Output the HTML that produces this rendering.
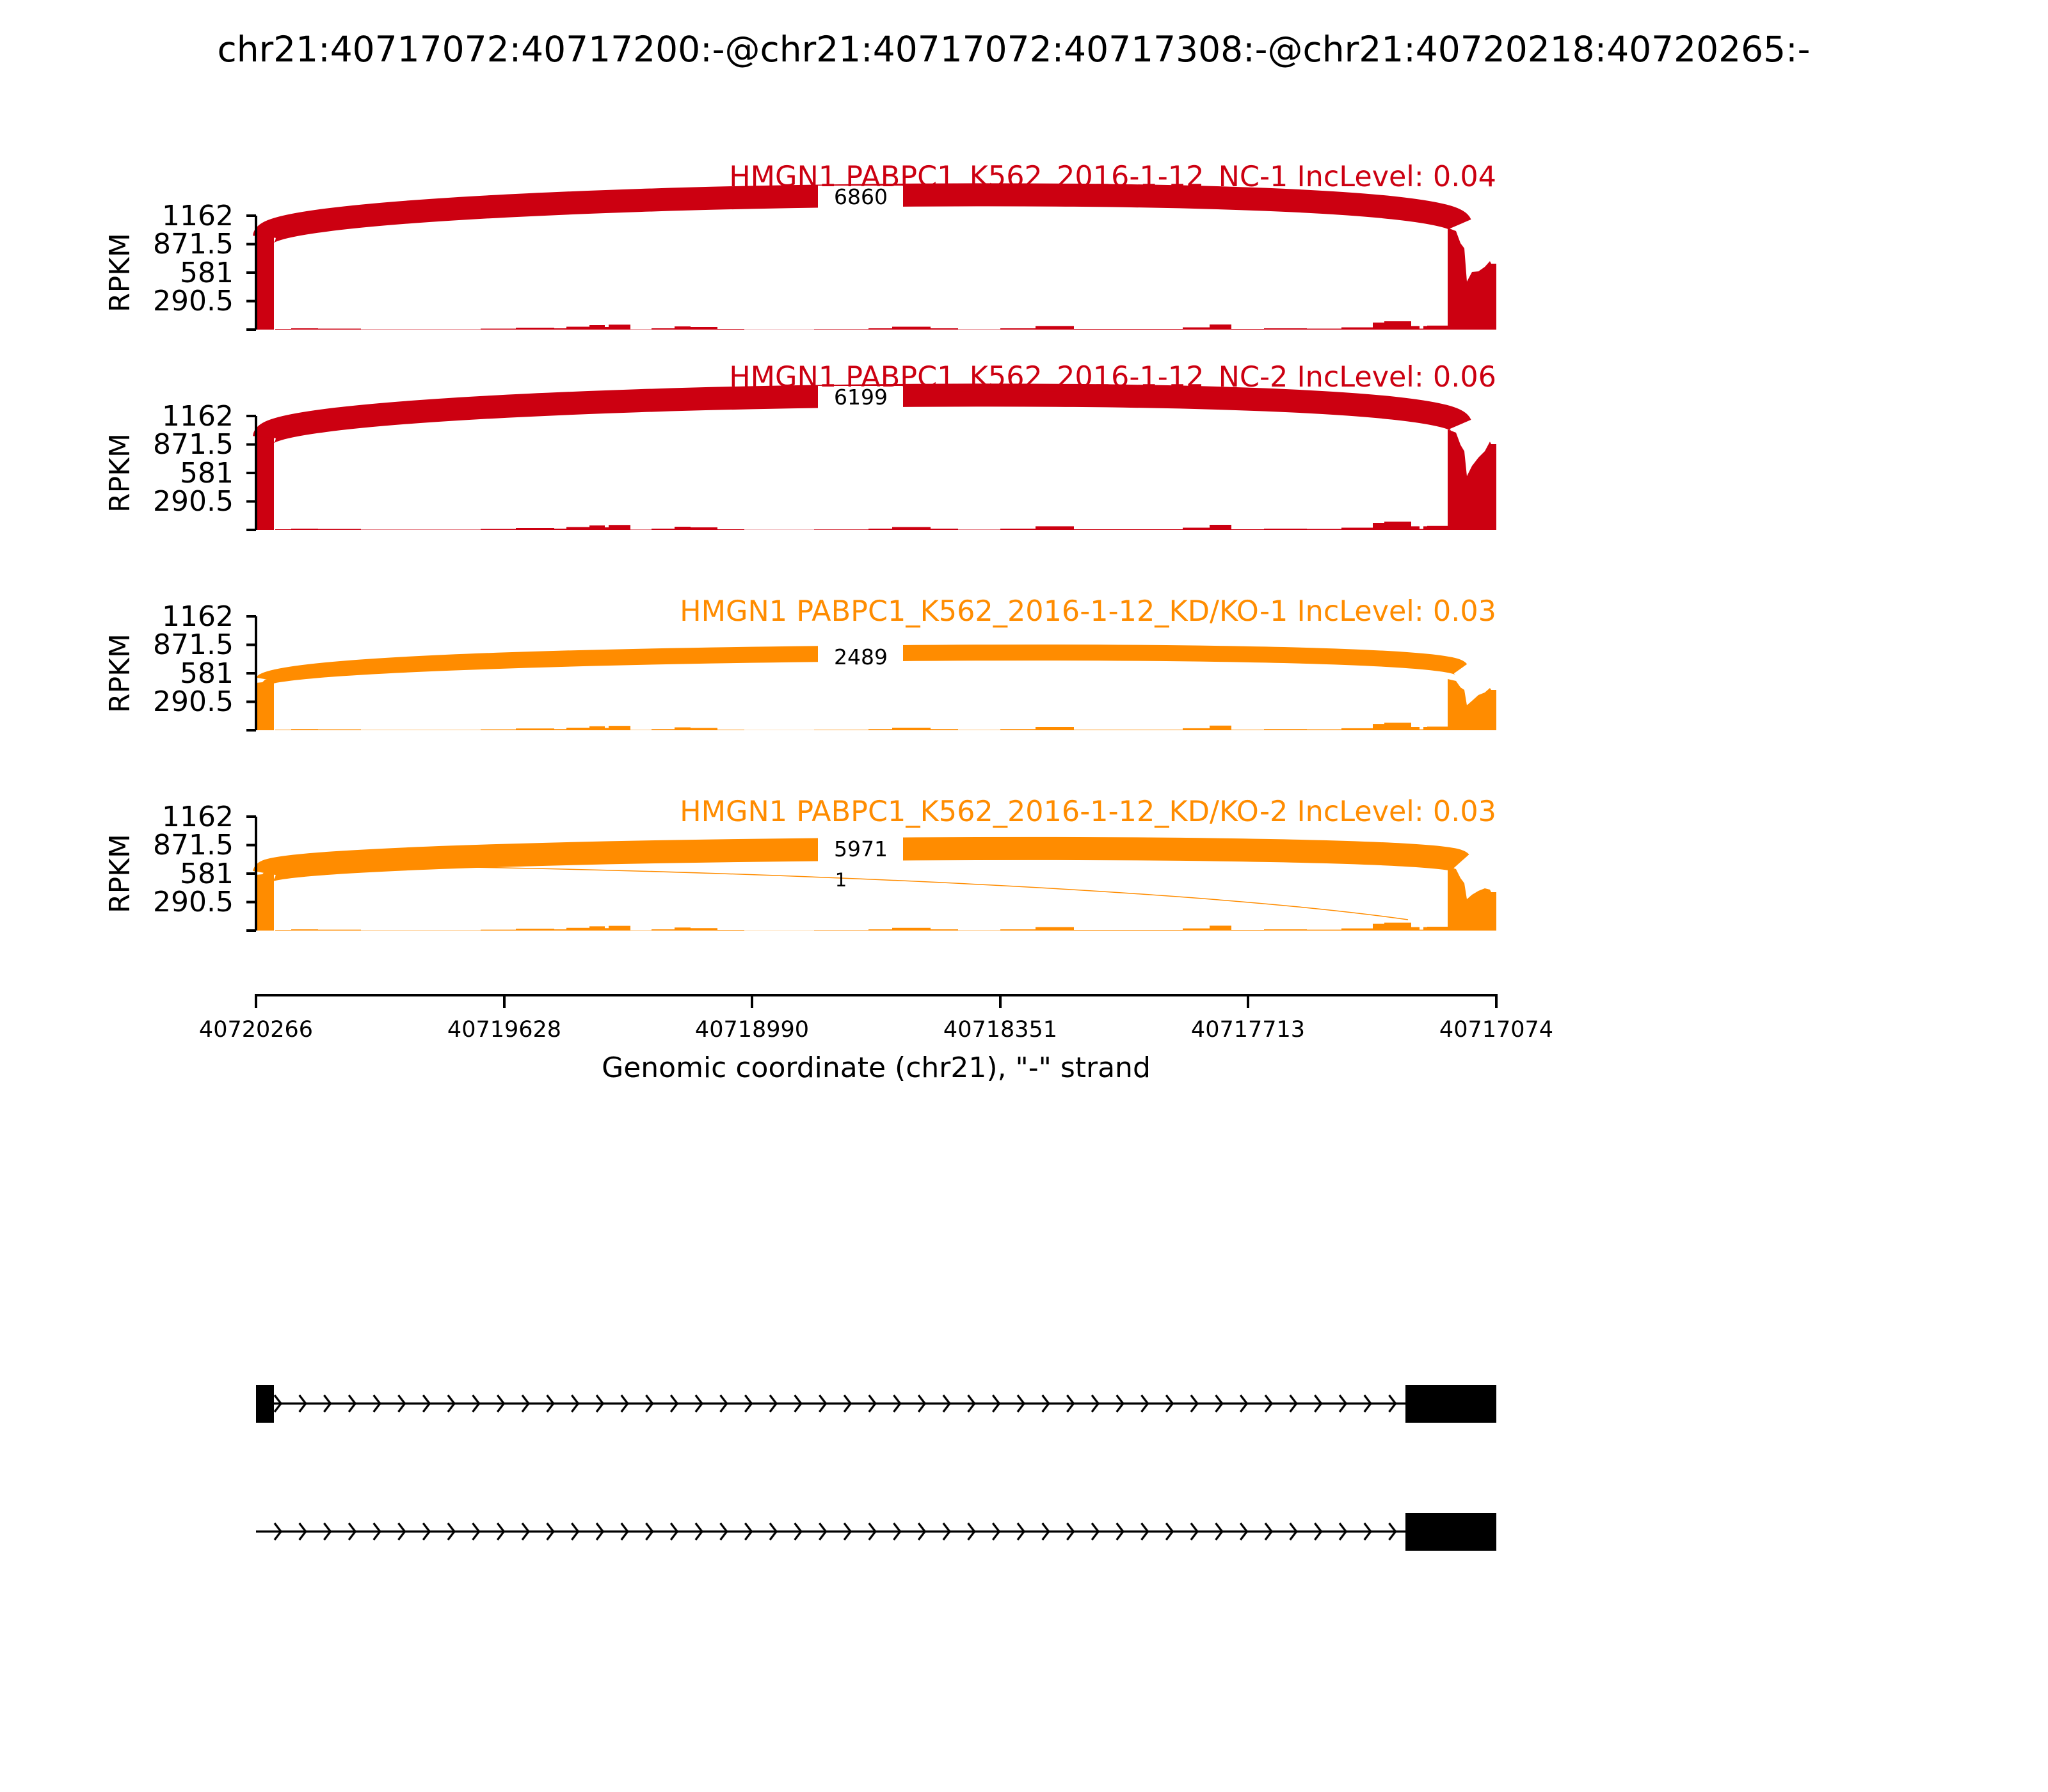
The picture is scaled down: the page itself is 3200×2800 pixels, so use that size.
<!DOCTYPE html>
<html><head><meta charset="utf-8"><style>
html,body{margin:0;padding:0;background:#fff;}
svg{display:block;}
text{font-family:"DejaVu Sans","Liberation Sans",sans-serif;}
</style></head><body>
<svg width="3200" height="2800" viewBox="0 0 3200 2800" xmlns="http://www.w3.org/2000/svg">
<defs>
<path id="noise" d="M30,0 V-1 H55 V-2 H97 V-1.5 H164 V-0.5 H351 V-1.5 H406 V-3 H466 V-2 H485 V-4.5 H521 V-7 H545 V-4 H551 V-7.7 H585 V-0.5 H618 V-2 H654 V-5 H679 V-4 H721 V-1 H763 V-0.3 H872 V-0.8 H957 V-2 H994 V-4.5 H1054 V-2 H1097 V-0.5 H1163 V-2 H1218 V-5.6 H1278 V-1 H1448 V-3.5 H1490 V-8 H1524 V-1 H1575 V-2 H1642 V-1.5 H1696 V-3.5 H1745 V-11 H1763 V-13 H1805 V-5.6 H1818 V-1.5 H1824 V-5.6 H1830 V-6.3 H1862 V0 Z"/>
<pattern id="chev1" patternUnits="userSpaceOnUse" x="401" y="2178" width="38.7" height="30">
<polyline points="28,2 38,15 28,28" fill="none" stroke="#000" stroke-width="3.3"/>
</pattern>
<pattern id="chev2" patternUnits="userSpaceOnUse" x="401" y="2378" width="38.7" height="30">
<polyline points="28,2 38,15 28,28" fill="none" stroke="#000" stroke-width="3.3"/>
</pattern>
</defs>

<text x="1584" y="96" font-size="55" text-anchor="middle">chr21:40717072:40717200:-@chr21:40717072:40717308:-@chr21:40720218:40720265:-</text>

<!-- Panel 1 -->
<g>
<use href="#noise" transform="translate(400,515)" fill="#cc0011"/>
<polygon fill="#cc0011" points="400,515 400,356 410,354 414,351 428,349 428,515"/>
<polygon fill="#cc0011" points="2262,515 2262,356 2275,361 2282,380 2288,388 2292,440 2300,425 2310,424 2320,417 2328,408 2330,412 2338,412 2338,515"/>
<path d="M413,370 C420,300 2250,275 2282,350" fill="none" stroke="#cc0011" stroke-width="36"/>
<rect x="1278" y="290" width="133" height="38" fill="#fff"/>
<text x="1345" y="319" font-size="33" text-anchor="middle">6860</text>
<text x="2338" y="291" font-size="44.5" text-anchor="end" fill="#cc0011">HMGN1 PABPC1_K562_2016-1-12_NC-1 IncLevel: 0.04</text>
</g>
<!-- Panel 2 -->
<g>
<use href="#noise" transform="translate(400,828)" fill="#cc0011"/>
<polygon fill="#cc0011" points="400,828 400,678 410,676 414,670 428,668 428,828"/>
<polygon fill="#cc0011" points="2262,828 2262,671 2275,676 2282,695 2288,705 2292,744 2300,728 2310,715 2320,705 2328,690 2330,694 2338,694 2338,828"/>
<path d="M413,683 C420,613 2250,588 2282,663" fill="none" stroke="#cc0011" stroke-width="36"/>
<rect x="1278" y="603" width="133" height="38" fill="#fff"/>
<text x="1345" y="632" font-size="33" text-anchor="middle">6199</text>
<text x="2338" y="604" font-size="44.5" text-anchor="end" fill="#cc0011">HMGN1 PABPC1_K562_2016-1-12_NC-2 IncLevel: 0.06</text>
</g>
<!-- Panel 3 -->
<g>
<use href="#noise" transform="translate(400,1141) scale(1,0.9)" fill="#ff8c00"/>
<polygon fill="#ff8c00" points="400,1141 400,1067 410,1066 414,1062 428,1060 428,1141"/>
<polygon fill="#ff8c00" points="2262,1141 2262,1061 2275,1064 2282,1074 2288,1078 2292,1102 2300,1095 2310,1086 2320,1082 2328,1075 2330,1078 2338,1078 2338,1141"/>
<path d="M413,1061 C420,1021 2250,1000 2282,1045" fill="none" stroke="#ff8c00" stroke-width="25"/>
<rect x="1278" y="1008" width="133" height="38" fill="#fff"/>
<text x="1345" y="1038" font-size="33" text-anchor="middle">2489</text>
<text x="2338" y="970" font-size="44.5" text-anchor="end" fill="#ff8c00">HMGN1 PABPC1_K562_2016-1-12_KD/KO-1 IncLevel: 0.03</text>
</g>
<!-- Panel 4 -->
<g>
<use href="#noise" transform="translate(400,1454) scale(1,0.95)" fill="#ff8c00"/>
<polygon fill="#ff8c00" points="400,1454 400,1367 410,1366 414,1361 428,1359 428,1454"/>
<polygon fill="#ff8c00" points="2262,1454 2262,1353 2275,1358 2282,1372 2288,1380 2292,1405 2300,1398 2310,1392 2320,1388 2328,1390 2330,1394 2338,1394 2338,1454"/>
<path d="M430,1352 C900,1352 1800,1380 2200,1437" fill="none" stroke="#ff8c00" stroke-width="1.5"/>
<text x="1314" y="1385" font-size="29" text-anchor="middle">1</text>
<path d="M413,1364 C420,1324 2250,1311 2282,1347" fill="none" stroke="#ff8c00" stroke-width="36"/>
<rect x="1278" y="1308" width="133" height="38" fill="#fff"/>
<text x="1345" y="1338" font-size="33" text-anchor="middle">5971</text>
<text x="2338" y="1283" font-size="44.5" text-anchor="end" fill="#ff8c00">HMGN1 PABPC1_K562_2016-1-12_KD/KO-2 IncLevel: 0.03</text>
</g>

<!-- Y axes -->
<g stroke="#000" stroke-width="4" fill="none">
<path d="M400,337 V515 M385,337 H400 M385,381.5 H400 M385,426 H400 M385,470.5 H400 M385,515 H400"/>
<path d="M400,650 V828 M385,650 H400 M385,694.5 H400 M385,739 H400 M385,783.5 H400 M385,828 H400"/>
<path d="M400,963 V1141 M385,963 H400 M385,1007.5 H400 M385,1052 H400 M385,1096.5 H400 M385,1141 H400"/>
<path d="M400,1276 V1454 M385,1276 H400 M385,1320.5 H400 M385,1365 H400 M385,1409.5 H400 M385,1454 H400"/>
</g>
<g font-size="44" text-anchor="end">
<text x="365" y="352">1162</text><text x="365" y="396">871.5</text><text x="365" y="441">581</text><text x="365" y="485">290.5</text>
<text x="365" y="665">1162</text><text x="365" y="709">871.5</text><text x="365" y="754">581</text><text x="365" y="798">290.5</text>
<text x="365" y="978">1162</text><text x="365" y="1022">871.5</text><text x="365" y="1067">581</text><text x="365" y="1111">290.5</text>
<text x="365" y="1291">1162</text><text x="365" y="1335">871.5</text><text x="365" y="1380">581</text><text x="365" y="1424">290.5</text>
</g>
<g font-size="44" text-anchor="middle">
<text transform="translate(202,426) rotate(-90)">RPKM</text>
<text transform="translate(202,739) rotate(-90)">RPKM</text>
<text transform="translate(202,1052) rotate(-90)">RPKM</text>
<text transform="translate(202,1365) rotate(-90)">RPKM</text>
</g>

<!-- X axis -->
<g stroke="#000" stroke-width="4" fill="none">
<path d="M398,1555 H2340"/>
<path d="M400,1555 V1575 M788,1555 V1575 M1175,1555 V1575 M1563,1555 V1575 M1950,1555 V1575 M2338,1555 V1575"/>
</g>
<g font-size="35" text-anchor="middle">
<text x="400" y="1620">40720266</text><text x="788" y="1620">40719628</text><text x="1175" y="1620">40718990</text>
<text x="1563" y="1620">40718351</text><text x="1950" y="1620">40717713</text><text x="2338" y="1620">40717074</text>
</g>
<text x="1369" y="1683" font-size="44" text-anchor="middle">Genomic coordinate (chr21), "-" strand</text>

<!-- Gene tracks -->
<line x1="400" y1="2193" x2="2200" y2="2193" stroke="#000" stroke-width="3.3"/>
<rect x="410" y="2178" width="1780" height="30" fill="url(#chev1)"/>
<rect x="400" y="2164" width="28" height="59" fill="#000"/>
<rect x="2196" y="2164" width="142" height="59" fill="#000"/>
<line x1="400" y1="2393" x2="2200" y2="2393" stroke="#000" stroke-width="3.3"/>
<rect x="410" y="2378" width="1780" height="30" fill="url(#chev2)"/>
<rect x="2196" y="2364" width="142" height="59" fill="#000"/>
</svg>
</body></html>
